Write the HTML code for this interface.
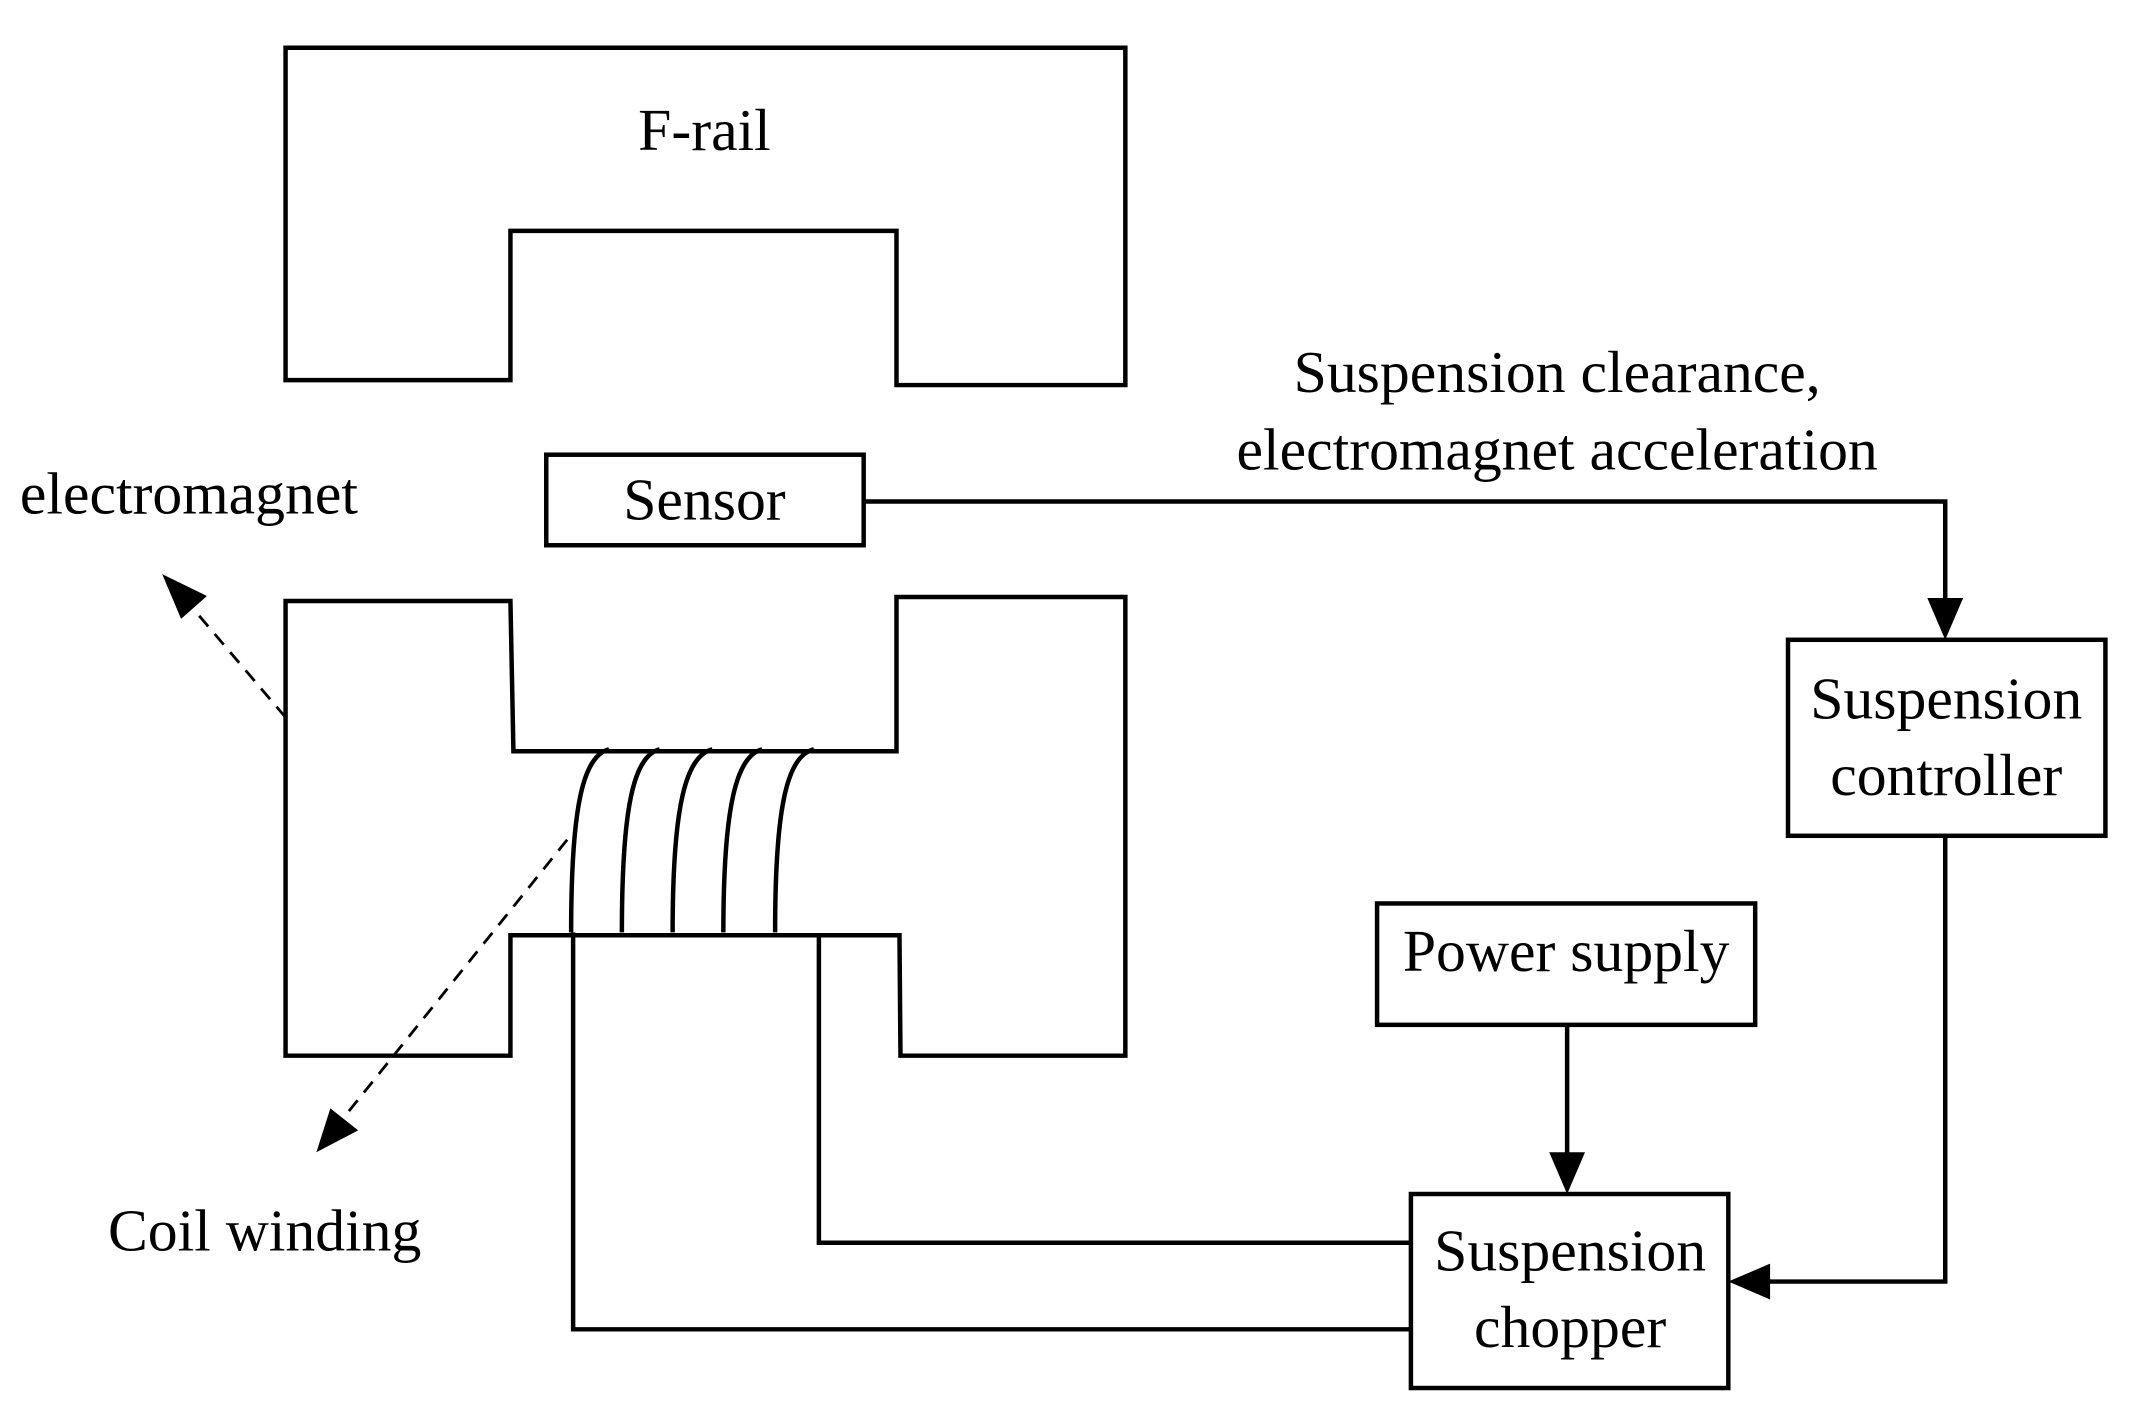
<!DOCTYPE html>
<html><head><meta charset="utf-8"><style>
html,body{margin:0;padding:0;background:#fff;}
svg{display:block;}
text{font-family:"Liberation Serif",serif;font-size:60px;fill:#000;}
</style></head><body>
<svg width="2142" height="1428" viewBox="0 0 2142 1428" xmlns="http://www.w3.org/2000/svg">
<g transform="scale(0.995)">
<g fill="none" stroke="#000" stroke-width="4.5" stroke-linejoin="miter">
<polygon points="287,48 1131,48 1131,387 901,387 901,232 513,232 513,382 287,382"/>
<polygon points="287,604 513,604 516,755 901,755 901,600 1131,600 1131,1061 905,1061 904,940 513,940 513,1061 287,1061"/>
<rect x="549" y="457" width="319" height="91"/>
<rect x="1797" y="643" width="319" height="197"/>
<rect x="1384" y="908" width="380" height="122"/>
<rect x="1418" y="1200" width="319" height="195"/>
<path d="M612 753 C586 760 574 810 574 937"/>
<path d="M663 753 C637 760 625 810 625 937"/>
<path d="M716 753 C689 760 676 810 676 937"/>
<path d="M766 753 C740 760 727 810 727 937"/>
<path d="M818 753 C791 760 779 810 779 937"/>
<polyline points="576,937 576,1336 1418,1336"/>
<polyline points="823,940 823,1249 1418,1249"/>
<polyline points="868,504 1955,504 1955,605"/>
<polyline points="1955,840 1955,1288 1775,1288"/>
<line x1="1575" y1="1030" x2="1575" y2="1162"/>
<line x1="287" y1="721" x2="185" y2="601" stroke-dasharray="14,10" stroke-width="2.8"/>
<line x1="570" y1="844" x2="340" y2="1130" stroke-dasharray="14,10" stroke-width="2.8"/>
</g>
<g fill="#000">
<polygon points="1955,643 1937,601 1973,601"/>
<polygon points="1575,1200 1557,1158 1593,1158"/>
<polygon points="1737,1288 1779,1270 1779,1306"/>
<polygon points="163,577 208,599 182,622"/>
<polygon points="318,1158 332,1114 360,1136"/>
</g>
<text x="708" y="151" text-anchor="middle">F-rail</text>
<text x="708" y="522" text-anchor="middle">Sensor</text>
<text x="20" y="516">electromagnet</text>
<text x="266" y="1257" text-anchor="middle">Coil winding</text>
<text x="1565" y="394" text-anchor="middle">Suspension clearance,</text>
<text x="1565" y="472" text-anchor="middle">electromagnet acceleration</text>
<text x="1956" y="722" text-anchor="middle">Suspension</text>
<text x="1956" y="799" text-anchor="middle">controller</text>
<text x="1574" y="976" text-anchor="middle">Power supply</text>
<text x="1578" y="1277" text-anchor="middle">Suspension</text>
<text x="1578" y="1354" text-anchor="middle">chopper</text>
</g>
</svg>
</body></html>
